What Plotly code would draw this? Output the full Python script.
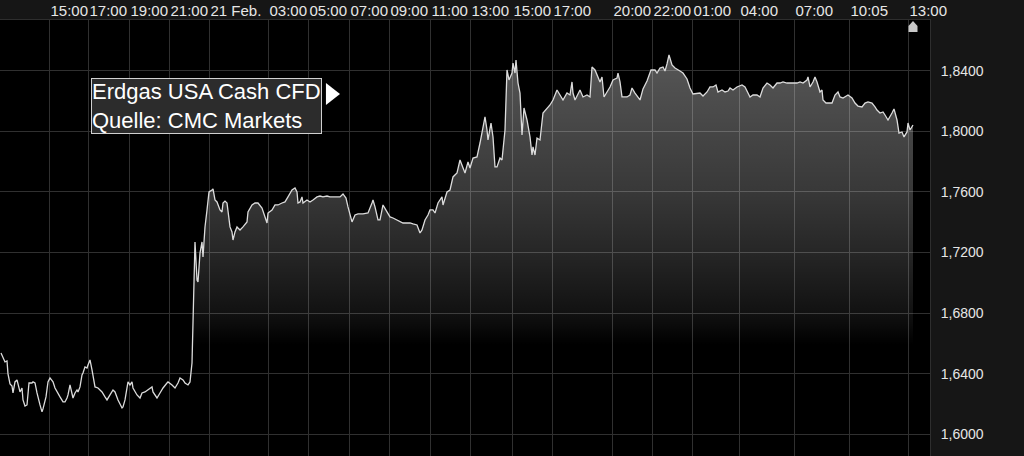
import plotly.graph_objects as go

# chart position (trading-time index) and price
pos = [
    1, 3, 5, 7, 8, 10, 12, 13, 15, 17,
    18, 20, 22, 23, 25, 27, 29, 32, 33, 35,
    37, 38, 40, 42, 43, 46, 48, 50, 53, 55,
    57, 60, 63, 65, 67, 68, 70, 72, 73, 75,
    77, 78, 80, 82, 83, 85, 87, 88, 90, 92,
    93, 95, 98, 102, 105, 107, 110, 113, 115, 118,
    122, 123, 125, 127, 128, 130, 132, 133, 137, 140,
    142, 145, 148, 152, 153, 157, 160, 163, 167, 168,
    172, 175, 178, 180, 183, 185, 188, 190, 192, 193,
    194, 195, 197, 198, 200, 202, 203, 205, 207, 209,
    212, 213, 215, 217, 220, 222, 223, 225, 227, 228,
    230, 232, 233, 235, 237, 238, 240, 243, 247, 248,
    252, 255, 258, 262, 265, 267, 268, 272, 275, 278,
    282, 285, 288, 292, 295, 297, 298, 300, 302, 303,
    307, 310, 313, 317, 320, 323, 327, 330, 333, 337,
    340, 343, 346, 348, 352, 355, 358, 363, 368, 372,
    373, 375, 378, 380, 382, 383, 387, 390, 393, 397,
    400, 403, 407, 410, 413, 417, 420, 422, 425, 428,
    430, 433, 435, 438, 442, 443, 447, 450, 453, 457,
    460, 463, 465, 468, 470, 473, 477, 480, 482, 485,
    487, 488, 491, 493, 495, 497, 500, 502, 505, 507,
    509, 512, 513, 515, 516, 518, 520, 522, 524, 527,
    530, 532, 533, 535, 537, 540, 543, 547, 550, 553,
    557, 560, 563, 567, 570, 572, 573, 575, 578, 580,
    583, 587, 590, 592, 595, 598, 600, 602, 604, 607,
    610, 613, 617, 618, 620, 622, 627, 630, 632, 635,
    638, 640, 643, 647, 651, 655, 657, 660, 663, 665,
    667, 669, 672, 675, 680, 683, 687, 690, 693, 697,
    700, 703, 707, 710, 713, 716, 718, 722, 725, 728,
    730, 733, 737, 742, 745, 748, 750, 753, 757, 760,
    763, 767, 770, 773, 777, 780, 783, 787, 790, 793,
    797, 800, 803, 807, 808, 810, 813, 815, 817, 820,
    822, 823, 826, 830, 832, 835, 838, 840, 843, 848,
    852, 855, 858, 862, 865, 868, 872, 875, 877, 880,
    883, 885, 888, 892, 894, 897, 899, 902, 904, 907,
    908, 910, 913,
]

price = [
    1.6537, 1.6511, 1.6478, 1.6484, 1.6399, 1.6333, 1.6319, 1.6273, 1.6346, 1.6359,
    1.6326, 1.6280, 1.6306, 1.6227, 1.6187, 1.6194, 1.6339, 1.6339, 1.6346, 1.6339,
    1.6273, 1.6240, 1.6194, 1.6148, 1.6168, 1.6247, 1.6346, 1.6372, 1.6346, 1.6306,
    1.6280, 1.6247, 1.6214, 1.6214, 1.6240, 1.6260, 1.6326, 1.6260, 1.6240, 1.6273,
    1.6293, 1.6280, 1.6313, 1.6392, 1.6405, 1.6445, 1.6438, 1.6458, 1.6491, 1.6425,
    1.6379, 1.6313, 1.6306, 1.6280, 1.6247, 1.6227, 1.6260, 1.6293, 1.6280, 1.6227,
    1.6174, 1.6181, 1.6227, 1.6313, 1.6346, 1.6326, 1.6346, 1.6306, 1.6260, 1.6240,
    1.6273, 1.6280, 1.6293, 1.6313, 1.6280, 1.6240, 1.6273, 1.6306, 1.6339, 1.6346,
    1.6326, 1.6306, 1.6339, 1.6372, 1.6359, 1.6339, 1.6326, 1.6346, 1.6471, 1.6689,
    1.6953, 1.7270, 1.7019, 1.7006, 1.7197, 1.7270, 1.7171, 1.7369, 1.7481, 1.7600,
    1.7613, 1.7620, 1.7547, 1.7534, 1.7481, 1.7468, 1.7527, 1.7540, 1.7527, 1.7461,
    1.7369, 1.7336, 1.7283, 1.7336, 1.7369, 1.7362, 1.7349, 1.7369, 1.7402, 1.7468,
    1.7514, 1.7527, 1.7527, 1.7494, 1.7428, 1.7395, 1.7461, 1.7481, 1.7514, 1.7514,
    1.7527, 1.7534, 1.7567, 1.7613, 1.7626, 1.7600, 1.7527, 1.7534, 1.7567, 1.7527,
    1.7547, 1.7534, 1.7547, 1.7567, 1.7573, 1.7567, 1.7573, 1.7567, 1.7567, 1.7567,
    1.7567, 1.7587, 1.7560, 1.7501, 1.7402, 1.7448, 1.7455, 1.7455, 1.7461, 1.7527,
    1.7547, 1.7501, 1.7415, 1.7415, 1.7501, 1.7514, 1.7468, 1.7435, 1.7428, 1.7415,
    1.7402, 1.7395, 1.7395, 1.7395, 1.7389, 1.7382, 1.7329, 1.7349, 1.7415, 1.7448,
    1.7481, 1.7481, 1.7461, 1.7527, 1.7567, 1.7514, 1.7600, 1.7613, 1.7699, 1.7725,
    1.7811, 1.7765, 1.7725, 1.7798, 1.7758, 1.7824, 1.7831, 1.7923, 1.7989, 1.8095,
    1.8009, 1.7943, 1.8055, 1.7963, 1.7765, 1.7765, 1.7824, 1.7811, 1.8009, 1.8405,
    1.8339, 1.8385, 1.8451, 1.8385, 1.8471, 1.8319, 1.8253, 1.7976, 1.8154, 1.8075,
    1.7963, 1.7844, 1.7897, 1.7844, 1.7956, 1.7943, 1.8121, 1.8154, 1.8174, 1.8207,
    1.8273, 1.8240, 1.8207, 1.8253, 1.8240, 1.8326, 1.8253, 1.8207, 1.8253, 1.8273,
    1.8227, 1.8240, 1.8227, 1.8425, 1.8405, 1.8359, 1.8326, 1.8359, 1.8227, 1.8260,
    1.8293, 1.8339, 1.8352, 1.8385, 1.8326, 1.8227, 1.8227, 1.8240, 1.8286, 1.8253,
    1.8227, 1.8207, 1.8280, 1.8332, 1.8405, 1.8405, 1.8385, 1.8418, 1.8425, 1.8398,
    1.8445, 1.8504, 1.8438, 1.8418, 1.8398, 1.8385, 1.8346, 1.8286, 1.8247, 1.8253,
    1.8253, 1.8233, 1.8260, 1.8293, 1.8293, 1.8306, 1.8260, 1.8273, 1.8260, 1.8266,
    1.8286, 1.8273, 1.8293, 1.8306, 1.8293, 1.8253, 1.8227, 1.8240, 1.8240, 1.8227,
    1.8286, 1.8319, 1.8306, 1.8286, 1.8319, 1.8319, 1.8326, 1.8319, 1.8319, 1.8319,
    1.8319, 1.8326, 1.8319, 1.8339, 1.8359, 1.8293, 1.8326, 1.8359, 1.8326, 1.8260,
    1.8273, 1.8207, 1.8187, 1.8187, 1.8187, 1.8240, 1.8260, 1.8227, 1.8220, 1.8240,
    1.8220, 1.8187, 1.8167, 1.8161, 1.8187, 1.8194, 1.8187, 1.8161, 1.8141, 1.8121,
    1.8128, 1.8108, 1.8075, 1.8121, 1.8148, 1.8075, 1.7989, 1.7996, 1.7963, 1.7996,
    1.8055, 1.8009, 1.8042,
]
assert len(pos) == len(price)

x_tick_pos = [49, 88, 129, 169, 209, 268, 308, 349, 389, 430, 470,
              512, 552, 612, 652, 692, 739, 794, 849, 908]
x_tick_text = ["15:00", "17:00", "19:00", "21:00", "21 Feb.", "03:00", "05:00",
               "07:00", "09:00", "11:00", "13:00", "15:00", "17:00", "20:00",
               "22:00", "01:00", "04:00", "07:00", "10:05", "13:00"]
y_ticks = [1.60, 1.64, 1.68, 1.72, 1.76, 1.80, 1.84]

title_lines = ["Erdgas USA Cash CFD", "Quelle: CMC Markets"]

FONT = "Liberation Sans, Arial, sans-serif"

fig = go.Figure()
fig.add_trace(go.Scatter(
    x=pos, y=price, mode="lines",
    line=dict(color="#dcdcdc", width=1.3),
    fill="tozeroy",
    fillgradient=dict(
        type="vertical", start=1.585, stop=1.85,
        colorscale=[
            [0.0, "rgba(255,255,255,0)"],
            [0.28, "rgba(255,255,255,0)"],
            [0.36, "rgba(255,255,255,0.07)"],
            [0.51, "rgba(255,255,255,0.15)"],
            [0.66, "rgba(255,255,255,0.22)"],
            [1.0, "rgba(255,255,255,0.34)"],
        ],
    ),
    hoverinfo="skip",
    showlegend=False,
))

# last-price marker at the top edge
xl = pos[-1]
fig.add_shape(
    type="path", xref="x", yref="paper",
    path=f"M {xl-4.5},0.9725 L {xl-4.5},0.9862 L {xl},0.9977 L {xl+4.5},0.9862 L {xl+4.5},0.9725 Z",
    fillcolor="#c8c8c8", line=dict(width=0),
)

# title box
fig.add_annotation(
    xref="paper", yref="paper", x=91 / 930, y=1 - (78 - 20) / 436,
    xanchor="left", yanchor="top", align="left",
    text="<br>".join(title_lines), showarrow=False,
    font=dict(family=FONT, size=22, color="#ffffff"),
    bgcolor="#2c2c2c", bordercolor="#d0d0d0", borderwidth=1, borderpad=0,
)
fig.add_shape(
    type="path", xref="paper", yref="paper",
    path="M 0.3505,0.8555 L 0.3505,0.8050 L 0.3656,0.8303 Z",
    fillcolor="#ffffff", line=dict(width=0),
)

fig.update_layout(
    width=1024, height=456,
    margin=dict(l=0, r=94, t=20, b=0, autoexpand=False),
    paper_bgcolor="#161616", plot_bgcolor="#000000",
    separators=",.",
    font=dict(family=FONT, color="#e6e6e6"),
    xaxis=dict(
        side="top", range=[0, 930], tickmode="array",
        tickvals=x_tick_pos, ticktext=x_tick_text,
        ticks="", ticklabelposition="outside right", ticklabelshift=1,
        ticklabelstandoff=-3, tickangle=0,
        automargin=False,
        tickfont=dict(size=15, color="#e6e6e6"),
        showgrid=True, gridcolor="#303030", gridwidth=1,
        zeroline=False, showline=True, linecolor="#2e2e2e",
    ),
    yaxis=dict(
        side="right", range=[1.5857, 1.8735], tickmode="array",
        tickvals=y_ticks, tickformat=".4f",
        ticks="", ticklabelstandoff=7, automargin=False,
        tickfont=dict(size=14, color="#e6e6e6"),
        showgrid=True, gridcolor="#303030", gridwidth=1,
        zeroline=False, showline=True, linecolor="#2e2e2e",
    ),
)

fig.write_html(
    "out.html",
    config={"displayModeBar": False, "staticPlot": True},
    post_script="document.body.style.margin='0';document.body.style.overflow='hidden';",
)
